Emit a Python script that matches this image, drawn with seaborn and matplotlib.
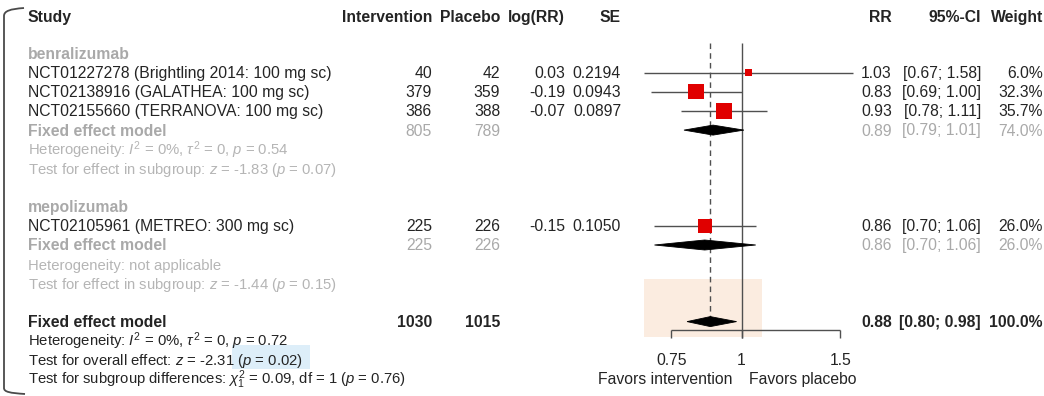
import numpy as np
import pandas as pd
import matplotlib
matplotlib.use("Agg")
import matplotlib.pyplot as plt
from matplotlib.patches import Rectangle, PathPatch
from matplotlib.path import Path
import seaborn as sns

sns.set_theme(style="white")
plt.rcParams["font.family"] = ["Liberation Sans", "DejaVu Sans"]
plt.rcParams["mathtext.fontset"] = "custom"
plt.rcParams["mathtext.rm"] = "Liberation Sans"
plt.rcParams["mathtext.it"] = "Liberation Sans:italic"
plt.rcParams["mathtext.bf"] = "Liberation Sans:bold"

# ---------------- study-level data ----------------
studies = [
    "NCT01227278 (Brightling 2014: 100 mg sc)",
    "NCT02138916 (GALATHEA: 100 mg sc)",
    "NCT02155660 (TERRANOVA: 100 mg sc)",
    "NCT02105961 (METREO: 300 mg sc)",
]
study_group = ["benralizumab", "benralizumab", "benralizumab", "mepolizumab"]
n_int = [40, 379, 386, 225]
n_pla = [42, 359, 388, 226]
log_rr = [0.03, -0.19, -0.07, -0.15]
se = [0.2194, 0.0943, 0.0897, 0.1050]
rr = [1.03, 0.83, 0.93, 0.86]
ci_lo = [0.67, 0.69, 0.78, 0.70]
ci_hi = [1.58, 1.00, 1.11, 1.06]
weight = [6.0, 32.3, 35.7, 26.0]

# ---------------- subgroup pooled estimates ----------------
groups = ["benralizumab", "mepolizumab"]
grp_n_int = [805, 225]
grp_n_pla = [789, 226]
grp_rr = [0.89, 0.86]
grp_lo = [0.79, 0.70]
grp_hi = [1.01, 1.06]
grp_weight = [74.0, 26.0]
grp_het = [r"Heterogeneity: $I^2$ = 0%, $\tau^2$ = 0, $p$ = 0.54",
           "Heterogeneity: not applicable"]
grp_test = [r"Test for effect in subgroup: $z$ = -1.83 ($p$ = 0.07)",
            r"Test for effect in subgroup: $z$ = -1.44 ($p$ = 0.15)"]

# ---------------- overall pooled estimate ----------------
tot_n_int = 1030
tot_n_pla = 1015
tot_rr = 0.88
tot_lo = 0.80
tot_hi = 0.98
tot_weight = 100.0
tot_het = r"Heterogeneity: $I^2$ = 0%, $\tau^2$ = 0, $p$ = 0.72"
tot_test = r"Test for overall effect: $z$ = -2.31 ($p$ = 0.02)"
sub_diff = r"Test for subgroup differences: $\chi^2_1$ = 0.09, df = 1 ($p$ = 0.76)"

headers = ["Study", "Intervention", "Placebo", "log(RR)", "SE", "RR", "95%-CI", "Weight"]
axis_ticks = [0.75, 1, 1.5]
axis_labels = ["0.75", "1", "1.5"]
favor_left = "Favors intervention"
favor_right = "Favors placebo"

# ---------------- layout ----------------
W, H = 1044, 396
FS, FS_SMALL = 11.3, 10.7
BLACK, GRAY, LGRAY = "#242424", "#a9a9a9", "#b5b5b5"
BASE = 5.4                      # baseline offset from row centre (px)
ROW0, STEP = 53.5, 19.15        # row grid
HEAD_Y = 17

# right edges of the numeric columns, left edge of the text column
X_STUDY = 28
X_INT, X_PLA, X_LOG, X_SE = 432, 500, 565, 621
X_RR, X_CI, X_W = 892, 981, 1043


def row(i):
    return ROW0 + STEP * i


fig = plt.figure(figsize=(W / 100, H / 100), dpi=100)
bg = fig.add_axes([0, 0, 1, 1])
bg.set_xlim(0, W)
bg.set_ylim(H, 0)
bg.axis("off")


def put(x, y, s, ha="left", size=FS, bold=False, color=BLACK):
    bg.text(x, y + BASE, s, ha=ha, va="baseline", fontsize=size,
            fontweight="bold" if bold else "normal", color=color, zorder=3)


# highlight boxes
bg.add_patch(Rectangle((644, 279), 118, 58, fc="#fbece0", ec="none", zorder=0))
bg.add_patch(Rectangle((232, 345), 78, 24, fc="#ddeef9", ec="none", zorder=0))

# left bracket
verts = [(24, 8), (10, 9), (4, 11), (4, 16), (4, 388), (4, 392), (10, 393), (25, 394)]
codes = [Path.MOVETO, Path.CURVE4, Path.CURVE4, Path.CURVE4,
         Path.LINETO, Path.CURVE4, Path.CURVE4, Path.CURVE4]
bg.add_patch(PathPatch(Path(verts, codes), fc="none", ec="#4a4a4a", lw=1.3, zorder=2))

# headers
put(X_STUDY, HEAD_Y, headers[0], bold=True)
for x, h in zip([X_INT, X_PLA, X_LOG, X_SE, X_RR, X_CI, X_W], headers[1:]):
    put(x, HEAD_Y, h, ha="right", bold=True)

# row assignment of each block
group_rows = {"benralizumab": 0, "mepolizumab": 8}
study_rows = []
for g in groups:
    base = group_rows[g]
    k = 1
    for s, sg in zip(studies, study_group):
        if sg == g:
            study_rows.append(row(base + k))
            k += 1
grp_fixed_rows = [row(4), row(10)]

# study rows
for s, ni, npl, lr, e, r, lo, hi, w, y in zip(studies, n_int, n_pla, log_rr, se, rr,
                                             ci_lo, ci_hi, weight, study_rows):
    put(X_STUDY, y, s)
    put(X_INT, y, f"{ni}", ha="right")
    put(X_PLA, y, f"{npl}", ha="right")
    put(X_LOG, y, f"{lr:.2f}", ha="right")
    put(X_SE, y, f"{e:.4f}", ha="right")
    put(X_RR, y, f"{r:.2f}", ha="right")
    put(X_CI, y, f"[{lo:.2f}; {hi:.2f}]", ha="right")
    put(X_W, y, f"{w:.1f}%", ha="right")

# subgroup blocks
for g, ni, npl, r, lo, hi, w, het, tst, y in zip(groups, grp_n_int, grp_n_pla, grp_rr, grp_lo,
                                                 grp_hi, grp_weight, grp_het, grp_test,
                                                 grp_fixed_rows):
    put(X_STUDY, row(group_rows[g]), g, bold=True, color=GRAY)
    put(X_STUDY, y, "Fixed effect model", bold=True, color=GRAY)
    put(X_INT, y, f"{ni}", ha="right", color=GRAY)
    put(X_PLA, y, f"{npl}", ha="right", color=GRAY)
    put(X_RR, y, f"{r:.2f}", ha="right", color=GRAY)
    put(X_CI, y, f"[{lo:.2f}; {hi:.2f}]", ha="right", color=GRAY)
    put(X_W, y, f"{w:.1f}%", ha="right", color=GRAY)
    put(X_STUDY, y + STEP, het, size=FS_SMALL, color=LGRAY)
    put(X_STUDY, y + 2 * STEP, tst, size=FS_SMALL, color=LGRAY)

# overall block
y = row(14)
put(X_STUDY, y, "Fixed effect model", bold=True)
put(X_INT, y, f"{tot_n_int}", ha="right", bold=True)
put(X_PLA, y, f"{tot_n_pla}", ha="right", bold=True)
put(X_RR, y, f"{tot_rr:.2f}", ha="right", bold=True)
put(X_CI, y, f"[{tot_lo:.2f}; {tot_hi:.2f}]", ha="right", bold=True)
put(X_W, y, f"{tot_weight:.1f}%", ha="right", bold=True)
put(X_STUDY, row(15), tot_het, size=FS_SMALL)
put(X_STUDY, row(16), tot_test, size=FS_SMALL)
put(X_STUDY, row(17), sub_diff, size=FS_SMALL)

# ---------------- forest panel (log scale) ----------------
X_ONE, PX_PER_LOG = 741.5, 244.0
FX0, FX1 = 590, 905
fax = fig.add_axes([FX0 / W, 0, (FX1 - FX0) / W, 1])
fax.set_xscale("log")

LINE = "#505050"
TOP, AX_Y, TICK = 43, 330, 8

# reference lines
fax.vlines(1, TOP, AX_Y + TICK, color=LINE, lw=1.0, zorder=1)
fax.vlines(tot_rr, TOP, row(14) - 5, color=LINE, lw=1.0, linestyles=(0, (4, 3)), zorder=1)

# confidence intervals
fax.hlines(study_rows, ci_lo, ci_hi, color=LINE, lw=1.0, zorder=2)

# study squares, area proportional to weight
df = pd.DataFrame({"rr": rr, "y": study_rows, "weight": weight})
sns.scatterplot(data=df, x="rr", y="y", size="weight", sizes=(0, 372), size_norm=(0, 100),
                marker="s", color="#e00000", linewidth=0, legend=False, ax=fax, zorder=3)

# pooled diamonds
HALF = 5
for r, lo, hi, y in zip(grp_rr + [tot_rr], grp_lo + [tot_lo], grp_hi + [tot_hi],
                        grp_fixed_rows + [row(14)]):
    fax.fill([lo, r, hi, r], [y, y - HALF, y, y + HALF], color="black", lw=0.6,
             ec="black", zorder=4)

# x axis
fax.hlines(AX_Y, min(axis_ticks), max(axis_ticks), color=LINE, lw=1.0)
fax.vlines(axis_ticks, AX_Y, AX_Y + TICK, color=LINE, lw=1.0)
for tk, lab in zip(axis_ticks, axis_labels):
    fax.text(tk, row(16) + BASE, lab, ha="center", va="baseline", fontsize=FS, color=BLACK)

fax.set_xlim(np.exp((FX0 - X_ONE) / PX_PER_LOG), np.exp((FX1 - X_ONE) / PX_PER_LOG))
fax.set_ylim(H, 0)
fax.axis("off")

put(X_ONE - 8.5, row(17), favor_left, ha="right")
put(X_ONE + 7.5, row(17), favor_right, ha="left")

fig.savefig("out.png", dpi=100, facecolor="white")
